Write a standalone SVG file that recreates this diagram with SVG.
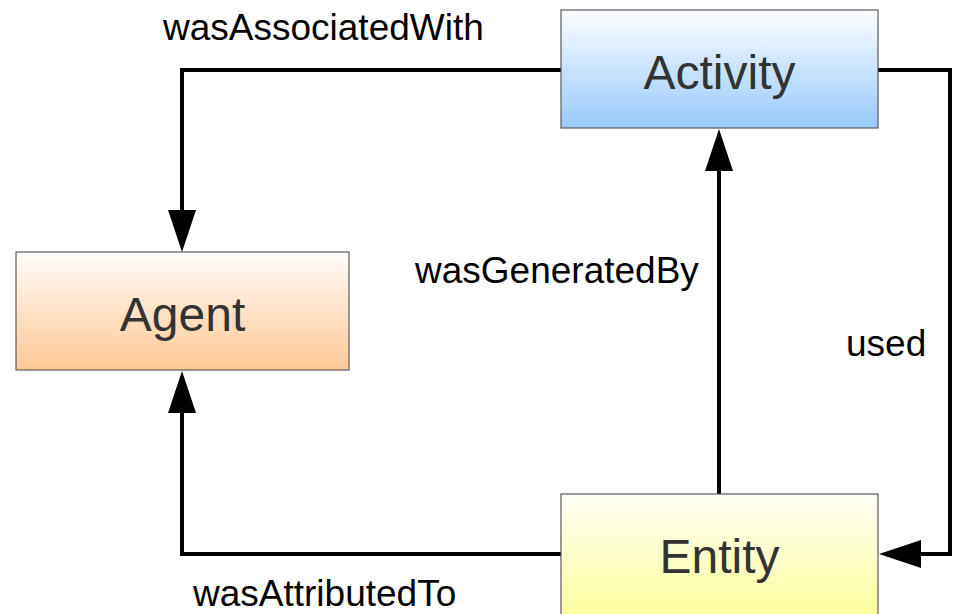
<svg xmlns="http://www.w3.org/2000/svg" width="953" height="614" viewBox="0 0 953 614">
  <style>
    .node { stroke: #5a5a5a; stroke-width: 1.2; }
    .node-text { font-family: "Liberation Sans", Arial, sans-serif; font-size: 48px; fill: #333333; text-anchor: middle; }
    .label { font-family: "Liberation Sans", Arial, sans-serif; font-size: 37px; fill: #000000; }
    .edge { fill: none; stroke: #000000; stroke-width: 4; stroke-linejoin: miter; }
  </style>
  <defs>
    <linearGradient id="gradActivity" x1="0" y1="0" x2="0" y2="1">
      <stop offset="0" stop-color="#fbfdff"/>
      <stop offset="1" stop-color="#99cafd"/>
    </linearGradient>
    <linearGradient id="gradAgent" x1="0" y1="0" x2="0" y2="1">
      <stop offset="0" stop-color="#fffcf9"/>
      <stop offset="1" stop-color="#fec895"/>
    </linearGradient>
    <linearGradient id="gradEntity" x1="0" y1="0" x2="0" y2="1">
      <stop offset="0" stop-color="#fffff6"/>
      <stop offset="1" stop-color="#ffff99"/>
    </linearGradient>
    <marker id="arrow" markerUnits="userSpaceOnUse" markerWidth="42" markerHeight="28" refX="0" refY="14" orient="auto" viewBox="0 0 42 28">
      <path d="M0,0 L42,14 L0,28 Z" fill="#000000"/>
    </marker>
  </defs>

  <!-- connectors -->
  <g id="connectors">
    <path id="edge-wasAssociatedWith" class="edge" d="M561,70 H182 V210" marker-end="url(#arrow)"/>
    <path id="edge-wasAttributedTo" class="edge" d="M561,554 H182 V413" marker-end="url(#arrow)"/>
    <path id="edge-wasGeneratedBy" class="edge" d="M719,494 V171" marker-end="url(#arrow)"/>
    <path id="edge-used" class="edge" d="M878,70 H950 V554 H921" marker-end="url(#arrow)"/>
    <text class="label" x="163" y="40">wasAssociatedWith</text>
    <text class="label" x="415" y="283">wasGeneratedBy</text>
    <text class="label" x="846" y="356">used</text>
    <text class="label" x="193" y="606">wasAttributedTo</text>
  </g>

  <!-- nodes -->
  <g id="activity">
    <rect class="node" x="561" y="10" width="317" height="118" fill="url(#gradActivity)"/>
    <text class="node-text" x="719.5" y="89">Activity</text>
  </g>
  <g id="agent">
    <rect class="node" x="16" y="252" width="333" height="118" fill="url(#gradAgent)"/>
    <text class="node-text" x="182.5" y="331">Agent</text>
  </g>
  <g id="entity">
    <rect class="node" x="561" y="494" width="317" height="130" fill="url(#gradEntity)"/>
    <text class="node-text" x="719.5" y="573">Entity</text>
  </g>
</svg>
